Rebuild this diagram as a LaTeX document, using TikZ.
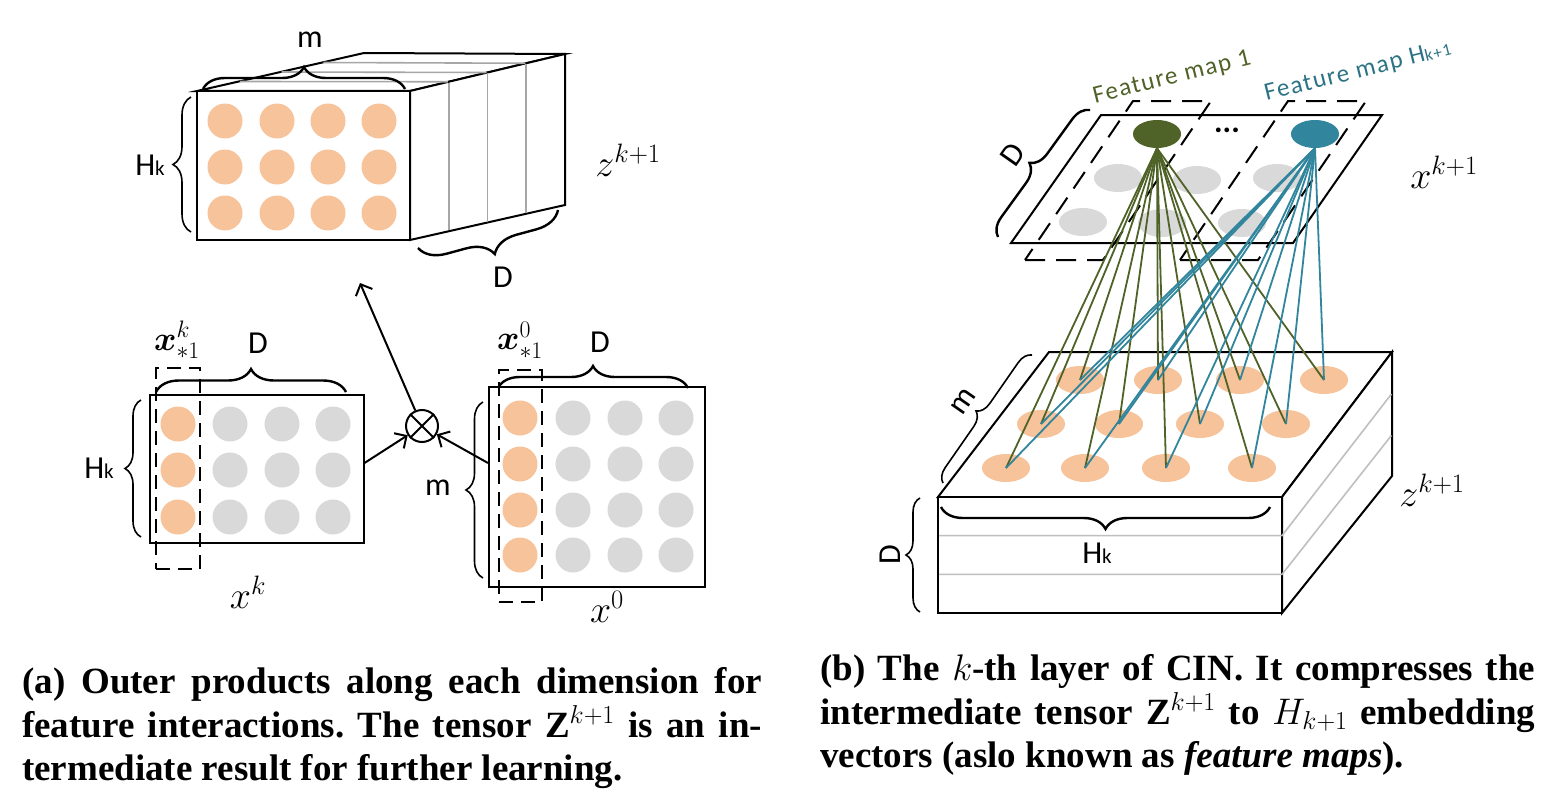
\RequirePackage{fix-cm}
\documentclass[tikz,border=0pt]{standalone}
\usepackage{amsmath}
\usepackage{fontspec}
\usetikzlibrary{arrows.meta,calc,shapes.geometric,decorations.pathreplacing}
\newfontfamily\lblfont{Carlito}
\newfontfamily\capfont{Liberation Serif}
\definecolor{peach}{HTML}{F7C39B}
\definecolor{dotgray}{HTML}{D9D9D9}
\definecolor{layergray}{HTML}{A6A6A6}
\definecolor{olivefm}{HTML}{4F6228}
\definecolor{tealfm}{HTML}{31859C}
\definecolor{tealtext}{HTML}{2B7384}
\tikzset{
  solid3d/.style={draw=black, line width=2pt, fill=white, line join=miter},
  layer/.style={draw=layergray, line width=1.6pt, shorten <=1pt, shorten >=1pt},
  mat/.style={draw=black, line width=2pt, fill=white, inner sep=0pt},
  dot/.style={circle, fill=#1, minimum size=35pt, inner sep=0pt},
  flatdot/.style={ellipse, fill=#1, minimum width=48pt, minimum height=28pt, inner sep=0pt},
  dbox/.style={draw=black, line width=2pt, dash pattern=on 14pt off 8pt, inner sep=0pt},
  fmdash/.style={draw=black, line width=2pt, dash pattern=on 20pt off 11pt},
  brc/.style={decorate, decoration={brace, amplitude=#1}, line width=2.4pt},
  tbrc/.style={decorate, decoration={brace, amplitude=#1}, line width=1.6pt},
  lbl/.style={font=\lblfont\fontsize{32}{36}\selectfont, inner sep=0pt},
  fmlbl/.style={font=\lblfont\fontsize{25}{28}\selectfont\addfontfeatures{LetterSpace=6}, inner sep=0pt, rotate=14},
  mlbl/.style={font=\fontsize{38}{44}\selectfont, inner sep=0pt},
  blbl/.style={font=\fontsize{34}{40}\selectfont, inner sep=0pt},
  arr/.style={-{Straight Barb[length=9pt,width=18pt]}, line width=2pt},
  otimes/.style={circle, draw=black, line width=2pt, fill=white, minimum size=32pt, inner sep=0pt},
  oline/.style={draw=olivefm, line width=1.8pt},
  tline/.style={draw=tealfm, line width=1.8pt},
  capline/.style={anchor=base west, inner sep=0pt, font=\capfont\bfseries\fontsize{37}{43}\selectfont\frenchspacing}
}

\begin{document}
\begin{tikzpicture}[x=1pt,y=-1pt]
\useasboundingbox (0,0) rectangle (1564,808);

% ---------- (a) tensor Z^{k+1}
\coordinate (zA) at (197,91);
\coordinate (zB) at (410,91);
\coordinate (zC) at (410,240);
\coordinate (zE) at (364,53);
\coordinate (zF) at (565,54);
\coordinate (zG) at (565,205);
\draw[solid3d] (zA) -- (zE) -- (zF) -- (zB) -- cycle;
\draw[solid3d] (zB) -- (zF) -- (zG) -- (zC) -- cycle;
\foreach \t in {0.25,0.5,0.75}{
  \draw[layer] ($(zA)!\t!(zE)$) -- ($(zB)!\t!(zF)$);
  \draw[layer] ($(zB)!\t!(zF)$) -- ($(zC)!\t!(zG)$);
}
\draw[solid3d] (zA) rectangle (zC);
\foreach \x [count=\i] in {225,277,328,379}
  \foreach \y [count=\j] in {121,167,213}
    \node[dot=peach] (z\i\j) at (\x,\y) {};
\draw[brc=22pt] (203,89) -- (405,89);
\node[lbl] (zm) at (310,40) {m};
\draw[tbrc=18pt] (191,232) -- (191,97);
\node[lbl] (zh) at (150,165) {H{\fontsize{21}{24}\selectfont k}};
\draw[brc=26pt] (558,210) -- (418,248);
\node[lbl] (zd) at (503,277) {D};
\node[mlbl] (zlab) at (628,160) {$z^{k+1}$};

% ---------- (a) x^k and x^0
\node[mat, minimum width=214pt, minimum height=148pt] (xk) at (256.5,469) {};
\foreach \x [count=\i] in {178,230,282,333}
  \foreach \y [count=\j] in {424,470,517}{
    \ifnum\i=1 \def\dc{peach}\else\def\dc{dotgray}\fi
    \node[dot=\dc] (k\i\j) at (\x,\y) {};
  }
\node[dbox, minimum width=44pt, minimum height=201pt] (xks) at (178,468.5) {};
\node[blbl] (xksl) at (177,340) {$\boldsymbol{x}^{k}_{*1}$};
\draw[brc=23pt] (156,392) -- (346,392);
\node[lbl] (xkd) at (258,343) {D};
\draw[tbrc=16pt] (141,537) -- (141,400);
\node[lbl] (xkh) at (99,468) {H{\fontsize{21}{24}\selectfont k}};
\node[mlbl] (xkl) at (248,592) {$x^{k}$};

\node[mat, minimum width=216pt, minimum height=200pt] (x0) at (597,487) {};
\foreach \x [count=\i] in {520,573,625,676}
  \foreach \y [count=\j] in {418,464,510,555}{
    \ifnum\i=1 \def\dc{peach}\else\def\dc{dotgray}\fi
    \node[dot=\dc] (o\i\j) at (\x,\y) {};
  }
\node[dbox, minimum width=43pt, minimum height=232pt] (x0s) at (520.5,486) {};
\node[blbl] (x0sl) at (520,340) {$\boldsymbol{x}^{0}_{*1}$};
\draw[brc=22pt] (498,388) -- (688,388);
\node[lbl] (x0d) at (600,342) {D};
\draw[tbrc=17pt] (483,578) -- (483,402);
\node[lbl] (x0m) at (438,488) {m};
\node[mlbl] (x0l) at (607,607) {$x^{0}$};

\node[otimes] (ot) at (422,426) {};
\draw[line width=2pt] (ot.north west) -- (ot.south east) (ot.north east) -- (ot.south west);
\coordinate (zin) at (360,283);
\draw[arr] ([yshift=6pt]xk.east) -- (ot);
\draw[arr] ([yshift=24pt]x0.west) -- (ot);
\draw[arr] (ot) -- (zin);

% ---------- (b) feature maps x^{k+1}
\coordinate (pA) at (1101,115);
\coordinate (pB) at (1382,115);
\coordinate (pC) at (1293,243);
\coordinate (pD) at (1011,243);
\draw[solid3d] (pA) -- (pB) -- (pC) -- (pD) -- cycle;
\foreach \x/\y [count=\i] in {1118/178,1197/180,1277/178,1083/222,1162/223,1242/223}
  \node[flatdot=dotgray] (g\i) at (\x,\y) {};
\draw[fmdash] (1025,260) -- (1103,260) -- (1211,101) -- (1133,101) -- cycle;
\draw[fmdash] (1180,260) -- (1258,260) -- (1366,101) -- (1288,101) -- cycle;
\node[flatdot=olivefm] (fm1) at (1157,134) {};
\node[flatdot=tealfm] (fmh) at (1315,134) {};
\node[lbl] (fmdots) at (1227,130) {\bfseries ...};
\node[fmlbl, text=olivefm] (fm1l) at (1172,78) {Feature map 1};
\node[fmlbl, text=tealtext] (fmhl) at (1358,72) {Feature map H{\fontsize{17}{20}\selectfont k+1}};
\draw[brc=18pt] (998,237) -- (1090,110);
\node[lbl, rotate=55] (pd) at (1013,155) {D};
\node[mlbl] (plab) at (1444,172) {$x^{k+1}$};

% ---------- (b) tensor Z^{k+1}
\coordinate (bA) at (938,497);
\coordinate (bB) at (1282,497);
\coordinate (bC) at (1282,613);
\coordinate (bD) at (938,613);
\coordinate (bE) at (1049,352);
\coordinate (bF) at (1392,352);
\coordinate (bG) at (1392,476);
\draw[solid3d] (bA) -- (bE) -- (bF) -- (bB) -- cycle;
\draw[solid3d] (bB) -- (bF) -- (bG) -- (bC) -- cycle;
\draw[solid3d] (bA) rectangle (bC);
\foreach \t in {0.333,0.667}{
  \draw[layer, draw=lightgray] ($(bA)!\t!(bD)$) -- ($(bB)!\t!(bC)$) -- ($(bF)!\t!(bG)$);
}
\foreach \y/\xs [count=\j] in {380/{1080,1158,1240,1324},424/{1041,1119,1200,1286},468/{1006,1085,1166,1252}}
  \foreach \x [count=\i] in \xs
    \node[flatdot=peach] (b\j\i) at (\x,\y) {};
\foreach \j in {1,2,3}
  \foreach \i in {1,2,3,4}
    \draw[oline] (fm1.south) -- (b\j\i.center);
\foreach \j in {1,2,3}
  \foreach \i in {1,2,3,4}
    \draw[tline] (fmh.south) -- (b\j\i.center);
\draw[brc=22pt] (1270,507) -- (941,507);
\node[lbl] (bh) at (1097,553) {H{\fontsize{21}{24}\selectfont k}};
\draw[tbrc=14pt] (943,483) -- (1032,355);
\node[lbl, rotate=55] (bm) at (963,402) {m};
\draw[tbrc=14pt] (920,612) -- (920,498);
\node[lbl, rotate=90] (bd) at (890,555) {D};
\node[mlbl] (blab) at (1432,490) {$z^{k+1}$};

% ---------- captions
\node[capline] (ca1) at (22,693) {\makebox[740pt][s]{(a) Outer products along each dimension for}};
\node[capline] (ca2) at (22,737) {\makebox[740pt][s]{feature interactions. The tensor Z$^{k+1}$ is an in-}};
\node[capline] (ca3) at (22,780) {termediate result for further learning.};
\node[capline] (cb1) at (820,680) {\makebox[715pt][s]{(b) The $k$-th layer of CIN. It compresses the}};
\node[capline] (cb2) at (820,724) {\makebox[715pt][s]{intermediate tensor Z$^{k+1}$ to $H_{k+1}$ embedding}};
\node[capline] (cb3) at (820,767) {vectors (aslo known as \textit{feature maps}).};
\end{tikzpicture}
\end{document}
